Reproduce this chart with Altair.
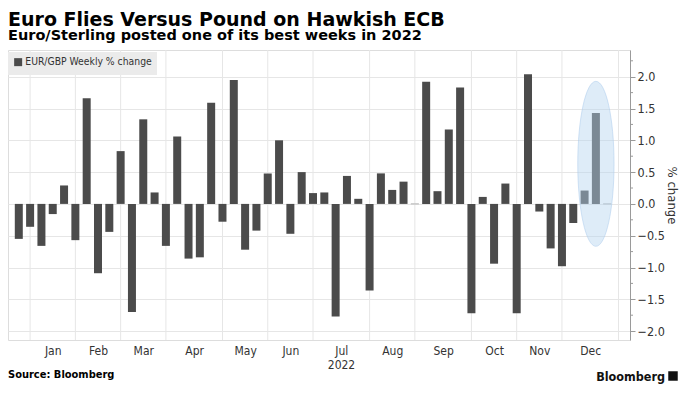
import altair as alt
import pandas as pd

TITLE = "Euro Flies Versus Pound on Hawkish ECB"
SUBTITLE = "Euro/Sterling posted one of its best weeks in 2022"
SERIES = "EUR/GBP Weekly % change"
SOURCE = "Source: Bloomberg"
BRAND = "Bloomberg"
Y_TITLE = "% change"
X_TITLE = "2022"

# weekly (Friday) observation dates
week_ending = [d.strftime("%Y-%m-%dT00:00:00")
               for d in pd.date_range("2021-12-31", periods=53, freq="7D")]

weekly_change = [
    -0.55, -0.36, -0.66, -0.16, 0.29, -0.57, 1.66, -1.09, -0.44, 0.83,
    -1.70, 1.33, 0.18, -0.66, 1.06, -0.86, -0.84, 1.59, -0.28, 1.95,
    -0.72, -0.42, 0.48, 1.00, -0.47, 0.50, 0.17, 0.18, -1.77, 0.44,
    0.08, -1.36, 0.48, 0.22, 0.35, 0.00, 1.92, 0.20, 1.17, 1.83,
    -1.72, 0.11, -0.94, 0.32, -1.72, 2.04, -0.12, -0.70, -0.98, -0.30,
    0.21, 1.43, 0.00,
]

# first weekly bar of each month (vertical grid)
month_grid = ["2022-01-07", "2022-02-04", "2022-03-04", "2022-04-01",
              "2022-05-06", "2022-06-03", "2022-07-01", "2022-08-05",
              "2022-09-02", "2022-10-07", "2022-11-04", "2022-12-02",
              "2023-01-06"]

# month label positions (middle of each month band)
month_label_days = [(1, 21, 0), (2, 18, 0), (3, 18, 0), (4, 18, 12),
                    (5, 20, 0), (6, 17, 0), (7, 18, 12), (8, 19, 0),
                    (9, 19, 12), (10, 21, 0), (11, 18, 0), (12, 19, 12)]

y_major = [-2.0, -1.5, -1.0, -0.5, 0.0, 0.5, 1.0, 1.5, 2.0]
y_minor = [-1.75, -1.25, -0.75, -0.25, 0.25, 0.75, 1.25, 1.75, 2.25]

highlight_date = "2022-12-23T00:00:00"
highlight_value = 0.63

FONT = "DejaVu Sans Condensed"
TFONT = "DejaVu Sans"
W, H = 622, 290

df = pd.DataFrame({"week": week_ending, "chg": weekly_change,
                   "series": [SERIES] * len(week_ending)})

xscale = alt.Scale(domain=[alt.DateTime(year=2021, month=12, date=27, hours=10),
                           alt.DateTime(year=2023, month=1, date=10)])
yscale = alt.Scale(domain=[-2.14, 2.42], nice=False, zero=False)

label_values = [alt.DateTime(year=2022, month=m, date=d, hours=h)
                for (m, d, h) in month_label_days]

X_AX = alt.Axis(values=label_values,
                labelExpr="timeFormat(datum.value, '%b')",
                title=X_TITLE, grid=False, ticks=False, domain=False,
                labelFont=FONT, labelFontSize=12, labelColor="#333333",
                labelPadding=5, titleFont=FONT, titleFontSize=12,
                titleFontWeight="normal", titleColor="#333333",
                titlePadding=3, titleX=333)
Y_AX = alt.Axis(orient="right", values=y_major, format=".1f",
                title=Y_TITLE, grid=True, gridColor="#e6e6e6",
                domainColor="#9a9a9a", tickColor="#9a9a9a", tickSize=5,
                labelPadding=2, labelFont=FONT, labelFontSize=12.5,
                labelColor="#333333", titleFont=FONT, titleFontSize=13,
                titleFontWeight="normal", titleColor="#333333",
                titleAngle=90, titleAlign="center", titleBaseline="middle",
                titleX=41, titleY=H / 2)

grid = alt.Chart(pd.DataFrame({"g": [g + "T00:00:00" for g in month_grid]})).mark_rule(
    color="#e6e6e6", strokeWidth=1
).encode(x=alt.X("g:T", scale=xscale, axis=X_AX))

bars = alt.Chart(df).mark_bar(width=8).encode(
    x=alt.X("week:T", scale=xscale, axis=X_AX),
    y=alt.Y("chg:Q", scale=yscale, axis=Y_AX),
    color=alt.Color("series:N", scale=alt.Scale(range=["#4b4b4b"]),
                    legend=alt.Legend(title=None, orient="none", legendX=0, legendY=2,
                                      fillColor="#ebebeb", padding=5,
                                      symbolType="square", symbolSize=64,
                                      labelFont=FONT, labelFontSize=10.3,
                                      labelColor="#333333", labelOffset=2)),
    stroke=alt.condition("datum.chg === 0", alt.value("#c6c6c6"), alt.value("transparent")),
)

ELLIPSE = "M0,-1 A0.22,1 0 1,1 0,1 A0.22,1 0 1,1 0,-1 Z"
ellipse = alt.Chart(pd.DataFrame({"d": [highlight_date], "v": [highlight_value]})).mark_point(
    shape=ELLIPSE, size=27225, filled=True, fill="#b5d4ef", fillOpacity=0.45,
    stroke="#a9c9ec", strokeWidth=1, strokeOpacity=0.5, opacity=1
).encode(x=alt.X("d:T", scale=xscale, axis=X_AX), y=alt.Y("v:Q", scale=yscale, axis=Y_AX))

minor = alt.Chart(pd.DataFrame({"t": y_minor})).mark_rule(color="#9a9a9a").encode(
    y=alt.Y("t:Q", scale=yscale, axis=Y_AX), x=alt.value(W), x2=alt.value(W + 3))


def label(text, x, y, size, weight="normal", align="left", color="#000000", font=FONT):
    return alt.Chart(pd.DataFrame({"t": [text]})).mark_text(
        align=align, baseline="alphabetic", font=font, fontSize=size,
        fontWeight=weight, color=color
    ).encode(text="t:N", x=alt.value(x), y=alt.value(y))


title = label(TITLE, 0, -24, 19, "bold", font=TFONT)
subtitle = label(SUBTITLE, 0, -10, 14.5, "bold", font=TFONT)
source = label(SOURCE, 0, 328, 11, "bold")
brand = label(BRAND, 657, 331, 12.5, "bold", align="right", color="#111111")
logo = alt.Chart(pd.DataFrame({"t": [BRAND]})).mark_point(
    shape="square", filled=True, color="#111111", size=90, opacity=1
).encode(x=alt.value(665), y=alt.value(326))

chart = alt.layer(grid, bars, ellipse, minor, title, subtitle, source, brand, logo).properties(
    width=W, height=H,
    autosize=alt.AutoSizeParams(type="none"),
    padding={"left": 0, "top": 42, "right": 50, "bottom": 48},
).configure_view(stroke=None).configure(background="white")

chart.save("out.html", embed_options={"renderer": "svg", "actions": False})
